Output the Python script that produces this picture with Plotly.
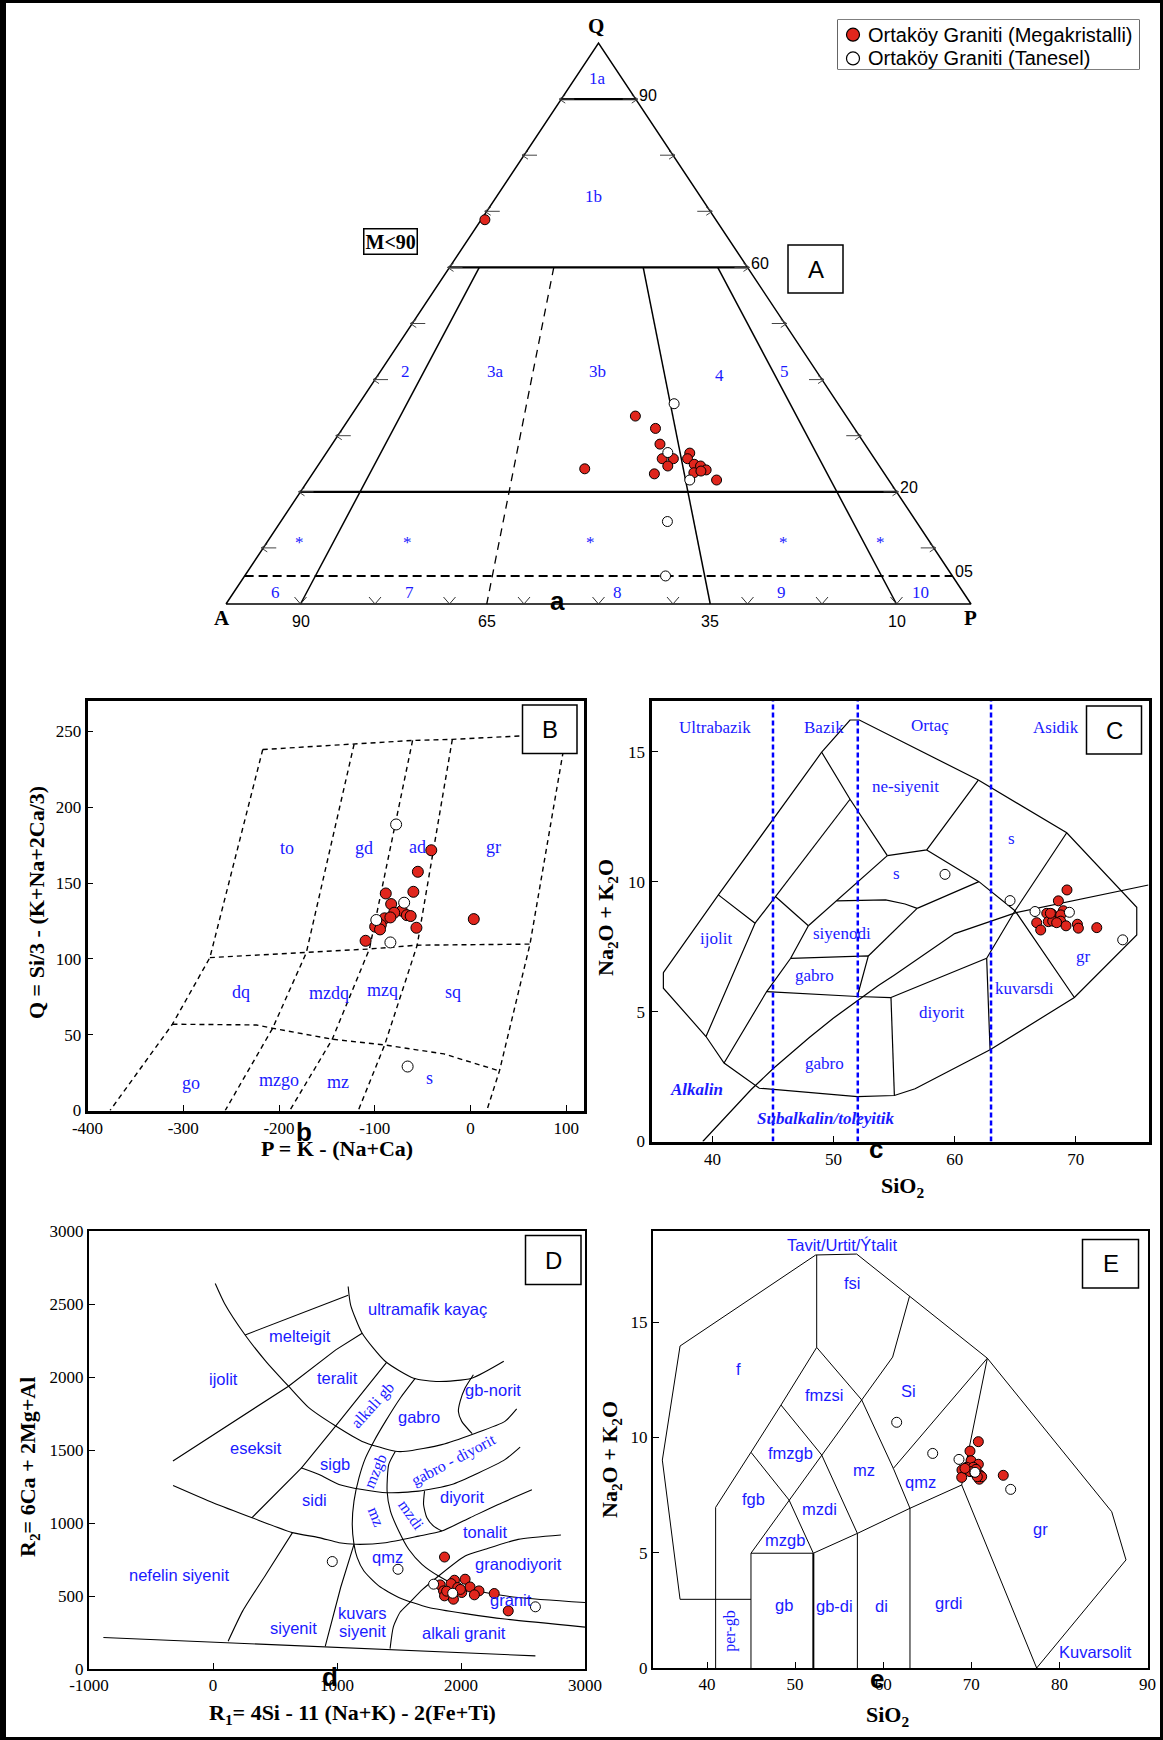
import plotly.graph_objects as go

W, H = 1163, 1740
SERIF = "Liberation Serif, Times New Roman, serif"
SANS = "Liberation Sans, Arial, sans-serif"
BLUE = "#1a1aff"
RED = "#e0261d"

# ---------------- sample data ----------------
# QAP modal compositions (%): Q, A, P
qap_mega_Q = [68.5, 33.5, 31.3, 28.5, 26.9, 25.9, 25.9, 25.9, 24.6, 24.9, 24.6, 23.9, 23.4, 23.7, 23.2, 22.1, 24.1]
qap_mega_A = [31.0, 28.3, 26.7, 27.5, 24.3, 25.1, 28.5, 27.0, 28.4, 24.7, 24.0, 23.6, 25.5, 24.4, 30.9, 23.1, 39.8]
qap_mega_P = [0.5, 38.2, 42.0, 44.0, 48.8, 49.0, 45.6, 47.1, 47.0, 50.4, 51.4, 52.5, 51.1, 51.9, 45.9, 54.8, 36.1]
qap_tan_Q = [35.7, 27.0, 22.1, 14.7, 5.0]
qap_tan_A = [22.0, 27.2, 26.7, 33.4, 38.5]
qap_tan_P = [42.3, 45.8, 51.2, 51.9, 56.5]

# Debon & Le Fort P-Q
pq_mega_P = [-41, -55, -88.5, -59.7, -82.9, -71.7, -79.7, -89.7, -83.7, -66.5, -62.5, -93.7, -99.6, -94.5, -56.5, -109.6, 3.4]
pq_mega_Q = [171.6, 157.4, 143.1, 144.2, 136.1, 131.7, 130.4, 126.7, 127.3, 128.8, 128.2, 122.3, 121.2, 119.4, 120.5, 111.9, 126.2]
pq_tan_P = [-77.7, -69.3, -98.4, -83.7, -65.7]
pq_tan_Q = [188.6, 137.0, 125.6, 110.8, 29.0]

# TAS (Cox et al.)
tas_mega_si = [69.27, 68.56, 67.6, 68.01, 68.97, 68.75, 66.77, 67.73, 68.09, 68.75, 69.19, 70.13, 70.21, 71.73, 67.1, 67.9, 68.42]
tas_mega_alk = [9.68, 9.26, 8.78, 8.76, 8.88, 8.72, 8.42, 8.46, 8.48, 8.48, 8.3, 8.36, 8.21, 8.23, 8.14, 8.78, 8.42]
tas_tan_si = [59.2, 64.57, 66.63, 69.47, 73.87]
tas_tan_alk = [10.28, 9.27, 8.85, 8.82, 7.76]

# De la Roche R1-R2
rr_mega_R1 = [1867, 1947, 2033, 1832, 1920, 2073, 1859, 1974, 2145, 2006, 2108, 1867, 1939, 2268, 2381, 1884, 1995]
rr_mega_R2 = [767, 608, 615, 576, 585, 562, 535, 558, 535, 524, 508, 501, 478, 517, 398, 533, 545]
rr_tan_R1 = [962, 1492, 1779, 1933, 2600]
rr_tan_R2 = [736, 683, 581, 519, 426]

# TAS (Middlemost)
mid_mega_si = [70.8, 69.85, 69.97, 70.8, 69.48, 70.23, 68.94, 70.53, 70.99, 68.91, 70.91, 73.63, 69.85, 71.18, 70.42, 70.68, 69.28]
mid_mega_alk = [9.82, 9.41, 8.99, 8.84, 8.71, 8.71, 8.59, 8.62, 8.37, 8.27, 8.19, 8.36, 8.52, 8.3, 8.45, 8.3, 8.66]
mid_tan_si = [61.53, 65.62, 68.6, 70.42, 74.47]
mid_tan_alk = [10.66, 9.31, 9.05, 8.49, 7.75]

MEGA_NAME = "Ortaköy Graniti (Megakristalli)"
TAN_NAME = "Ortaköy Graniti (Tanesel)"

# ---------------- field boundaries ----------------
qap_q_levels = [90, 60, 20]
qap_q_dashed = 5
qap_ratios = [10, 35, 65, 90]          # P/(A+P) %, 35 drawn dashed
qap_ratio_labels = ["90", "65", "35", "10"]

pq_lines = [
    [(-217, 238), (-121.6, 241.5), (-60.5, 244), (-19, 244.7), (100, 248.5)],
    [(-217, 238), (-272.2, 100.8), (-311.3, 56.9), (-376.4, 0)],
    [(-121.6, 241.5), (-171.5, 104), (-206.7, 54.2), (-256.2, 0)],
    [(-60.5, 244), (-105.6, 106.5), (-144.4, 47), (-188.7, 0)],
    [(-19, 244.7), (-55.7, 109), (-89.7, 43.2), (-117.2, 0)],
    [(100, 248.5), (62.1, 109.7), (30.2, 26.1), (17, 0)],
    [(-272.2, 100.8), (-171.5, 104), (-105.6, 106.5), (-55.7, 109), (62.1, 109.7)],
    [(-311.3, 56.9), (-223.5, 56.4), (-206.7, 54.2), (-144.4, 47), (-89.7, 43.2), (-27.8, 37.3), (30.2, 26.1)],
]

tas_lines = [
    [(35.95, 6.5), (35.95, 5.9), (39.47, 4.04), (40.96, 3.02), (43.87, 2.05), (51.96, 1.73), (55.02, 1.77),
     (56.73, 2.03), (62.92, 3.53), (69.88, 5.54), (75.03, 7.95), (75.03, 9.01), (69.25, 11.88), (61.95, 13.91),
     (52.13, 16.22), (51.36, 16.22), (49.02, 14.98), (40.49, 9.49), (35.95, 6.5)],
    [(40.49, 9.49), (43.52, 8.4), (39.47, 4.04)],
    [(51.36, 13.17), (45.22, 9.42), (43.52, 8.4)],
    [(45.22, 9.42), (47.92, 8.3)],
    [(47.92, 8.3), (46.46, 7.05), (44.48, 5.77), (40.96, 3.02)],
    [(49.02, 14.98), (51.36, 13.17), (54.44, 11.0)],
    [(54.44, 11.0), (57.69, 11.22), (61.95, 13.91)],
    [(47.92, 8.3), (50.26, 9.26), (54.44, 11.0)],
    [(50.26, 9.26), (54.3, 9.3), (55.9, 9.14), (56.9, 8.97)],
    [(56.9, 8.97), (62.0, 10.0)],
    [(57.69, 11.22), (62.0, 10.0), (64.98, 8.88)],
    [(69.25, 11.88), (64.98, 8.88), (69.88, 5.54)],
    [(64.98, 8.88), (62.64, 7.05), (62.92, 3.53)],
    [(54.74, 5.54), (55.02, 1.77)],
    [(54.74, 5.54), (62.64, 7.05)],
    [(44.48, 5.77), (51.96, 5.58), (54.74, 5.54)],
    [(46.46, 7.05), (52.87, 7.14), (51.96, 5.58)],
    [(52.87, 7.14), (56.9, 8.97)],
]
tas_alkaline_line = [(39.2, 0), (40, 0.4), (43.2, 2.0), (45, 2.8), (48, 4.0), (50, 4.75), (53.7, 6.0),
                     (55, 6.4), (60, 8.0), (65, 8.8), (76, 9.87)]
tas_silica_classes = [45, 52, 63]

rr_curves = [
    [(18, 2640), (93, 2504), (259, 2288), (428, 2106), (609, 1937), (770, 1792), (990, 1664), (1203, 1559),
     (1471, 1491), (1556, 1491), (1845, 1537), (2100, 1610), (2354, 1696), (2449, 1781)],
    [(1090, 2620), (1110, 2493), (1203, 2300), (1391, 2106), (1618, 1992), (1819, 1969), (2086, 1992), (2345, 2108)],
    [(1632, 1992), (1511, 1856), (1391, 1696), (1297, 1559), (1230, 1446), (1177, 1309), (1137, 1150),
     (1123, 990), (1137, 854), (1163, 763), (1217, 671), (1337, 569), (1498, 490), (1739, 421), (2060, 376),
     (2354, 342), (3000, 287)],
    [(1471, 1491), (1417, 1400), (1404, 1218), (1431, 1081), (1498, 945), (1578, 820), (1685, 717), (1819, 637),
     (1979, 569), (2194, 524), (2461, 490), (3000, 455)],
    [(709, 1378), (855, 1332), (1016, 1264), (1203, 1229), (1404, 1207), (1658, 1218), (1925, 1264),
     (2140, 1343), (2354, 1434), (2477, 1520)],
    [(-322, 1257), (0, 1139), (315, 1036), (641, 934), (855, 900), (1016, 865), (1150, 854), (1391, 865),
     (1658, 910), (1845, 945), (2073, 1036), (2300, 1127), (2572, 1227)],
    [(1706, 1218), (1698, 1127), (1725, 1036), (1779, 979), (1845, 945)],
    [(2100, 2015), (2033, 1924), (1993, 1833), (1979, 1764), (2006, 1696), (2090, 1612)],
    [(1819, 637), (2033, 774), (2194, 820), (2461, 888), (2806, 918)],
    [(1428, 140), (1455, 290), (1510, 390), (1580, 450), (1690, 545), (1819, 637)],
    [(641, 934), (428, 649), (240, 398), (122, 190)],
]
rr_lines = [
    [(-884, 216), (2600, 90)],
    [(259, 2288), (1090, 2560)],
    [(-323, 1425), (609, 1937), (990, 2186), (1203, 2300)],
    [(315, 1037), (714, 1377), (990, 1665), (1400, 2100)],
    [(1137, 854), (1030, 560), (905, 155)],
]

mid_lines = [
    [(36.94, 2.98), (34.93, 9.02), (36.94, 13.97), (52.34, 17.92), (56.99, 17.96), (71.82, 13.44),
     (85.94, 6.78), (87.56, 4.69), (77.42, 0)],
    [(36.94, 2.98), (44.99, 2.98)],
    [(40.98, 0), (40.98, 6.97), (44.99, 9.36), (48.4, 11.41), (52.45, 13.91)],
    [(52.45, 13.91), (52.45, 17.92)],
    [(52.45, 13.91), (57.56, 11.63)],
    [(57.56, 11.63), (61.15, 8.66), (63.04, 6.93)],
    [(62.99, 16.13), (61.07, 13.49), (57.56, 11.63)],
    [(44.99, 9.36), (49.31, 7.29), (52.07, 4.98)],
    [(48.4, 11.41), (53.02, 9.24), (57.07, 5.84)],
    [(44.99, 4.98), (57.56, 11.63)],
    [(44.99, 4.98), (52.07, 4.98)],
    [(44.99, 4.98), (44.99, 0)],
    [(57.07, 5.84), (57.07, 0)],
    [(52.07, 4.98), (57.07, 5.84), (63.04, 6.93), (68.91, 7.94)],
    [(63.04, 6.93), (63.04, 0)],
    [(68.91, 7.94), (77.42, 0)],
    [(68.91, 7.94), (71.82, 13.44)],
    [(71.82, 13.44), (61.15, 8.66)],
]
mid_thick = [[(52.07, 4.98), (52.07, 0)]]

# ---------------- field labels ----------------
qap_fields = [("1a", 49.9, 93.6), ("1b", 49.3, 72.7), ("2", 24.1, 41.5), ("3a", 36.2, 41.5),
              ("3b", 49.9, 41.5), ("4", 66.2, 40.8), ("5", 75.0, 41.5),
              ("*", 9.9, 11.0), ("*", 24.4, 11.0), ("*", 48.9, 11.0), ("*", 74.8, 11.0), ("*", 87.9, 11.0),
              ("6", 6.6, 2.1), ("7", 24.6, 2.1), ("8", 52.6, 2.1), ("9", 74.6, 2.1), ("10", 93.2, 2.1)]
pq_fields = [("to", -191.5, 173.2), ("gd", -110.8, 173.2), ("ad", -55.7, 173.8), ("gr", 24.2, 173.8),
             ("dq", -239.4, 78.4), ("mzdq", -147.6, 77.7), ("mzq", -91.7, 79.5), ("sq", -17.8, 78.4),
             ("go", -292.2, 18), ("mzgo", -199.5, 19.8), ("mz", -138.8, 18.7), ("s", -42.5, 21.3)]
tas_fields = [("Ultrabazik", 40.2, 15.94), ("Bazik", 49.25, 15.94), ("Ortaç", 57.99, 15.99),
              ("Asidik", 68.37, 15.94), ("ne-siyenit", 55.92, 13.68), ("s", 64.72, 11.67), ("s", 55.17, 10.3),
              ("ijolit", 40.3, 7.82), ("siyenodi", 50.68, 7.99), ("gabro", 48.45, 6.38),
              ("diyorit", 58.97, 4.98), ("kuvarsdi", 65.76, 5.87), ("gr", 70.6, 7.12), ("gabro", 49.25, 2.99)]
tas_series_labels = [("Alkalin", 38.66, 2.02), ("Subalkalin/toleyitik", 49.3, 0.9)]
rr_fields = [("ultramafik kayaç", 1727, 2468), ("melteigit", 705, 2283), ("ijolit", 84, 1983),
             ("teralit", 1006, 1995), ("gabro", 1660, 1727), ("gb-norit", 2259, 1912), ("eseksit", 345, 1515),
             ("sigb", 984, 1406), ("sidi", 821, 1158), ("diyorit", 2004, 1176), ("tonalit", 2194, 938),
             ("qmz", 1405, 765), ("granodiyorit", 2465, 719), ("nefelin siyenit", -275, 643),
             ("granit", 2403, 470), ("kuvars", 1205, 385), ("siyenit", 1205, 257), ("siyenit", 653, 281),
             ("alkali granit", 2028, 246)]
rr_rotated = [("alkali gb", 1291, 1808, -48), ("mzgb", 1313, 1354, -67), ("gabro - diyorit", 1942, 1434, -28),
              ("mz", 1313, 1042, 68), ("mzdi", 1604, 1054, 55)]
mid_fields = [("Tavit/Urtit/Ýtalit", 55.37, 18.36), ("fsi", 56.5, 16.72), ("f", 43.54, 12.98),
              ("fmzsi", 53.33, 11.83), ("Si", 62.83, 12.02), ("fmzgb", 49.53, 9.35), ("mz", 57.81, 8.58),
              ("qmz", 64.25, 8.07), ("fgb", 45.3, 7.33), ("mzdi", 52.79, 6.89), ("mzgb", 48.84, 5.57),
              ("gr", 77.9, 6.01), ("gb", 48.72, 2.74), ("gb-di", 54.43, 2.71), ("di", 59.85, 2.71),
              ("grdi", 67.51, 2.83), ("Kuvarsolit", 84.1, 0.69)]

# ---------------- page layout (pixels) ----------------
TRI_L, TRI_R, TRI_BASE, TRI_TOP = 226.0, 971.0, 604.0, 43.0
PANEL_PX = {
    "A": (200, 1010, 8, 640),
    "B": (87.5, 584.0, 701.0, 1110.5),
    "C": (651.5, 1148.5, 700.5, 1141.5),
    "D": (89.0, 585.0, 1231.0, 1669.0),
    "E": (653.0, 1147.5, 1231.0, 1668.0),
}
LEGEND_PX = (838, 1139, 20, 69)
KX = (TRI_R - TRI_L) / 100.0
KY = (TRI_BASE - TRI_TOP) / 100.0


def dom(px):
    x0, x1, y0, y1 = px
    return [x0 / W, x1 / W], [1 - y1 / H, 1 - y0 / H]


def qap_xy(Q, A, P):
    t = Q + A + P
    q, p = 100.0 * Q / t, 100.0 * P / t
    return p + q / 2.0, q


fig = go.Figure()


def add_segments(segs, xa, ya, color="black", width=1.2, dash=None, shape="linear"):
    xs, ys = [], []
    for seg in segs:
        for x, y in seg:
            xs.append(x)
            ys.append(y)
        xs.append(None)
        ys.append(None)
    fig.add_trace(go.Scatter(x=xs, y=ys, mode="lines", xaxis=xa, yaxis=ya, hoverinfo="skip",
                             showlegend=False, line=dict(color=color, width=width, dash=dash, shape=shape,
                                                         smoothing=0.6 if shape == "spline" else None)))


def add_samples(xm, ym, xt, yt, xa, ya, size=10):
    fig.add_trace(go.Scatter(x=xm, y=ym, mode="markers", xaxis=xa, yaxis=ya, name=MEGA_NAME, showlegend=False,
                             marker=dict(size=size, color=RED, line=dict(color="black", width=1))))
    fig.add_trace(go.Scatter(x=xt, y=yt, mode="markers", xaxis=xa, yaxis=ya, name=TAN_NAME, showlegend=False,
                             marker=dict(size=size, color="white", line=dict(color="black", width=1))))


annotations = []


def label(text, x, y, xref, yref, family=SERIF, size=17, color=BLUE, angle=0, **kw):
    d = dict(text=text, x=x, y=y, xref=xref, yref=yref, showarrow=False, textangle=angle,
             font=dict(family=family, size=size, color=color), xanchor="center", yanchor="middle")
    d.update(kw)
    annotations.append(d)


def plabel(text, px, py, **kw):
    label(text, px / W, 1 - py / H, "paper", "paper", **kw)


# ---------------- Panel A: QAP triangle ----------------
corners = [qap_xy(0, 100, 0), qap_xy(100, 0, 0), qap_xy(0, 0, 100), qap_xy(0, 100, 0)]
add_segments([corners], "x", "y", width=1.5)
add_segments([[qap_xy(q, 100 - q, 0), qap_xy(q, 0, 100 - q)] for q in qap_q_levels], "x", "y", width=2.2)
add_segments([[qap_xy(qap_q_dashed, 100 - qap_q_dashed, 0), qap_xy(qap_q_dashed, 0, 100 - qap_q_dashed)]],
             "x", "y", width=2, dash="9px,5px")
solid_rays, dashed_rays = [], []
for r in qap_ratios:
    seg = [qap_xy(60, (100 - r) * 0.4, r * 0.4), qap_xy(0, 100 - r, r)]
    (dashed_rays if r == 35 else solid_rays).append(seg)
add_segments(solid_rays, "x", "y", width=1.5)
add_segments(dashed_rays, "x", "y", width=1.3, dash="8px,6px")

# side tick marks every 10 %
ticks = []
for q in range(10, 100, 10):
    xe, ye = qap_xy(q, 100 - q, 0)
    ticks.append([(xe + 13 / KX, ye), (xe - 2 / KX, ye)])
    ticks.append([(xe + 4 / KX, ye + 4 / KY), (xe - 2 / KX, ye), (xe + 4 / KX, ye - 4 / KY)])
    xe, ye = qap_xy(q, 0, 100 - q)
    ticks.append([(xe - 13 / KX, ye), (xe + 2 / KX, ye)])
    ticks.append([(xe - 4 / KX, ye + 4 / KY), (xe + 2 / KX, ye), (xe - 4 / KX, ye - 4 / KY)])
add_segments(ticks, "x", "y", color="#444", width=1)
vticks = []
for p in range(10, 100, 10):
    xb, yb = qap_xy(0, 100 - p, p)
    vticks.append([(xb - 6 / KX, yb + 7 / KY), (xb, yb), (xb + 6 / KX, yb + 7 / KY)])
add_segments(vticks, "x", "y", color="#333", width=1)

qx_m, qy_m = zip(*[qap_xy(q, a, p) for q, a, p in zip(qap_mega_Q, qap_mega_A, qap_mega_P)])
qx_t, qy_t = zip(*[qap_xy(q, a, p) for q, a, p in zip(qap_tan_Q, qap_tan_A, qap_tan_P)])
add_samples(list(qx_m), list(qy_m), list(qx_t), list(qy_t), "x", "y", size=10)

for t, x, y in qap_fields:
    label(t, x, y, "x", "y", size=17)
for q, t in zip(qap_q_levels + [qap_q_dashed], ["90", "60", "20", "05"]):
    xr, yr = qap_xy(q, 0, 100 - q)
    label(t, xr + 1 / KX, yr + 4 / KY, "x", "y", family=SANS, size=16, color="black", xanchor="left")
for r, t in zip(qap_ratios, qap_ratio_labels):
    xb, _ = qap_xy(0, 100 - r, r)
    label(t, xb, -17 / KY, "x", "y", family=SANS, size=16, color="black")
label("<b>A</b>", -0.6, -14 / KY, "x", "y", size=21, color="black")
label("<b>P</b>", 99.9, -14 / KY, "x", "y", size=21, color="black")
label("<b>Q</b>", 49.6, 100 + 17 / KY, "x", "y", size=21, color="black")
plabel("<b>M&lt;90</b>", 390, 241, size=20, color="black", bordercolor="black", borderwidth=1.5, borderpad=1)

# ---------------- Panel B: P-Q ----------------
add_segments(pq_lines, "x2", "y2", width=1.4, dash="5px,4px")
add_samples(pq_mega_P, pq_mega_Q, pq_tan_P, pq_tan_Q, "x2", "y2", size=11)
for t, x, y in pq_fields:
    label(t, x, y, "x2", "y2", size=18)

# ---------------- Panel C: TAS ----------------
add_segments(tas_lines, "x3", "y3", width=1.2)
add_segments([tas_alkaline_line], "x3", "y3", width=1.2)
add_segments([[(s, 0), (s, 17)] for s in tas_silica_classes], "x3", "y3", color="#0000ff", width=2.5,
             dash="5px,3px")
add_samples(tas_mega_si, tas_mega_alk, tas_tan_si, tas_tan_alk, "x3", "y3", size=10)
for t, x, y in tas_fields:
    label(t, x, y, "x3", "y3", size=17)
for t, x, y in tas_series_labels:
    label("<b><i>%s</i></b>" % t, x, y, "x3", "y3", size=17)

# ---------------- Panel D: R1-R2 ----------------
add_segments(rr_curves, "x4", "y4", width=1.1, shape="spline")
add_segments(rr_lines, "x4", "y4", width=1.1)
add_samples(rr_mega_R1, rr_mega_R2, rr_tan_R1, rr_tan_R2, "x4", "y4", size=10)
for t, x, y in rr_fields:
    label(t, x, y, "x4", "y4", family=SANS, size=16.5)
for t, x, y, a in rr_rotated:
    label(t, x, y, "x4", "y4", size=16, angle=a)

# ---------------- Panel E: Middlemost TAS ----------------
add_segments(mid_lines, "x5", "y5", width=1.0)
add_segments(mid_thick, "x5", "y5", width=2.0)
add_samples(mid_mega_si, mid_mega_alk, mid_tan_si, mid_tan_alk, "x5", "y5", size=10)
for t, x, y in mid_fields:
    label(t, x, y, "x5", "y5", family=SANS, size=16.5)
label("per-gb", 42.61, 1.57, "x5", "y5", size=16, angle=-90)

# ---------------- key (legend box) ----------------
lx0, lx1, ly0, ly1 = LEGEND_PX
key_rows = [(MEGA_NAME, RED, 34.7), (TAN_NAME, "white", 58.4)]
for name, col, ky in key_rows:
    fig.add_trace(go.Scatter(x=[853], y=[ky], mode="markers", xaxis="x6", yaxis="y6", hoverinfo="skip",
                             showlegend=False,
                             marker=dict(size=13, color=col, line=dict(color="black", width=1.2))))
    plabel(name, 866, ky, family=SANS, size=20, color="black", xanchor="left")

# ---------------- axis titles & panel tags ----------------
TITLE = dict(size=22, color="black", family=SERIF)
plabel("<b>P = K - (Na+Ca)</b>", 337, 1148, **TITLE)
plabel("<b>Q = Si/3 - (K+Na+2Ca/3)</b>", 36, 903, angle=-90, **TITLE)
plabel("<b>SiO<sub>2</sub></b>", 902, 1187, **TITLE)
plabel("<b>Na<sub>2</sub>O + K<sub>2</sub>O</b>", 607, 918, angle=-90, **TITLE)
plabel("<b>R<sub>1</sub>= 4Si - 11 (Na+K) - 2(Fe+Ti)</b>", 352, 1714, **TITLE)
plabel("<b>R<sub>2</sub>= 6Ca + 2Mg+Al</b>", 29, 1467, angle=-90, **TITLE)
plabel("<b>SiO<sub>2</sub></b>", 887, 1716, **TITLE)
plabel("<b>Na<sub>2</sub>O + K<sub>2</sub>O</b>", 611, 1460, angle=-90, **TITLE)

TAG = dict(family=SANS, size=26, color="black")
for t, px, py in [("a", 557, 601), ("b", 304, 1132), ("c", 876, 1149), ("d", 330, 1677), ("e", 877, 1679)]:
    plabel("<b>%s</b>" % t, px, py, **TAG)

shapes = [
    dict(type="rect", xref="paper", yref="paper", x0=0, y0=0, x1=1, y1=1,
         line=dict(color="black", width=6), layer="above"),
    dict(type="line", xref="paper", yref="paper", x0=0, y0=0, x1=0, y1=1,
         line=dict(color="black", width=12), layer="above"),
    dict(type="rect", xref="paper", yref="paper", x0=lx0 / W, x1=lx1 / W, y0=1 - ly1 / H, y1=1 - ly0 / H,
         line=dict(color="black", width=1.2), layer="below"),
]
for t, (x0, x1, y0, y1) in {"A": (788, 843, 245, 293), "B": (522.5, 577, 705, 753.5),
                            "C": (1086.5, 1141.5, 706, 754), "D": (525.5, 581, 1235.5, 1284.5),
                            "E": (1082.5, 1138.5, 1239.5, 1288)}.items():
    shapes.append(dict(type="rect", xref="paper", yref="paper", x0=x0 / W, x1=x1 / W, y0=1 - y1 / H,
                       y1=1 - y0 / H, line=dict(color="black", width=1.5), fillcolor="white", layer="above"))
    plabel(t, (x0 + x1) / 2, (y0 + y1) / 2, family=SANS, size=24, color="black")


# ---------------- axes ----------------
def frame_axis(px_dom, rng, vals, texts, lw):
    return dict(domain=px_dom, range=rng, showline=True, linecolor="black", linewidth=lw, mirror=True,
                ticks="inside", ticklen=6, tickwidth=1, tickcolor="black", showgrid=False, zeroline=False,
                tickvals=vals, ticktext=texts, tickfont=dict(family=SERIF, size=17, color="black"),
                fixedrange=True, automargin=False)


xa_dom, ya_dom = dom(PANEL_PX["A"])
ax0, ax1, ay0, ay1 = PANEL_PX["A"]
layout_axes = dict(
    xaxis=dict(domain=xa_dom, range=[(ax0 - TRI_L) / KX, (ax1 - TRI_L) / KX], visible=False, fixedrange=True,
               automargin=False),
    yaxis=dict(domain=ya_dom, range=[(TRI_BASE - ay1) / KY, (TRI_BASE - ay0) / KY], visible=False,
               fixedrange=True, anchor="x", automargin=False),
)
b_x, b_y = dom(PANEL_PX["B"])
layout_axes["xaxis2"] = frame_axis(b_x, [-400, 118.5], [-400, -300, -200, -100, 0, 100],
                                   ["-400", "-300", "-200", "-100", "0", "100"], 2.5)
layout_axes["yaxis2"] = frame_axis(b_y, [0, 270], [0, 50, 100, 150, 200, 250],
                                   ["0", "50", "100", "150", "200", "250"], 2.5)
c_x, c_y = dom(PANEL_PX["C"])
layout_axes["xaxis3"] = frame_axis(c_x, [34.97, 76.0], [40, 50, 60, 70], ["40", "50", "60", "70"], 3)
layout_axes["yaxis3"] = frame_axis(c_y, [0, 16.97], [0, 5, 10, 15], ["0", "5", "10", "15"], 3)
d_x, d_y = dom(PANEL_PX["D"])
layout_axes["xaxis4"] = frame_axis(d_x, [-1000, 3000], [-1000, 0, 1000, 2000, 3000],
                                   ["-1000", "0", "1000", "2000", "3000"], 2)
layout_axes["yaxis4"] = frame_axis(d_y, [0, 3000], [0, 500, 1000, 1500, 2000, 2500, 3000],
                                   ["0", "500", "1000", "1500", "2000", "2500", "3000"], 2)
e_x, e_y = dom(PANEL_PX["E"])
layout_axes["xaxis5"] = frame_axis(e_x, [33.87, 90], [40, 50, 60, 70, 80, 90],
                                   ["40", "50", "60", "70", "80", "90"], 2)
layout_axes["yaxis5"] = frame_axis(e_y, [0, 18.96], [0, 5, 10, 15], ["0", "5", "10", "15"], 2)
for i in range(2, 6):
    layout_axes["xaxis%d" % i]["anchor"] = "y%d" % i
    layout_axes["yaxis%d" % i]["anchor"] = "x%d" % i
# pixel-space axes for the key box
k_x, k_y = dom(LEGEND_PX)
layout_axes["xaxis6"] = dict(domain=k_x, range=[lx0, lx1], visible=False, fixedrange=True, anchor="y6",
                             automargin=False)
layout_axes["yaxis6"] = dict(domain=k_y, range=[ly1, ly0], visible=False, fixedrange=True, anchor="x6",
                             automargin=False)

fig.update_layout(
    width=W, height=H, margin=dict(l=0, r=0, t=0, b=0, pad=0, autoexpand=False),
    paper_bgcolor="white", plot_bgcolor="white", showlegend=False,
    annotations=annotations, shapes=shapes, **layout_axes,
)

fig.write_html("out.html")
